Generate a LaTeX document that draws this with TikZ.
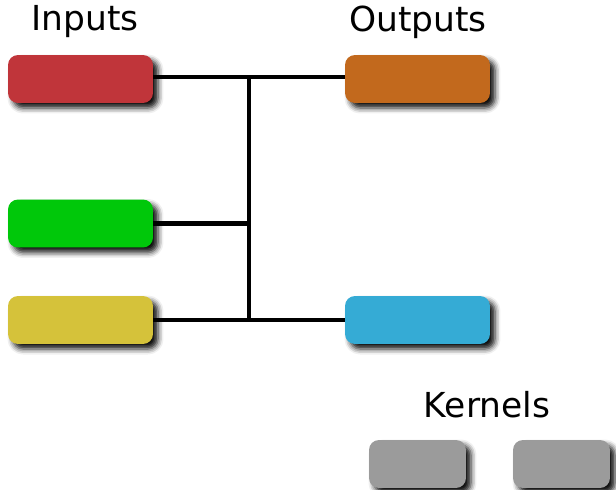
\documentclass[tikz,border=0pt]{standalone}
\usepackage{fontspec}
\setmainfont{DejaVu Sans}
\usepackage{xcolor}
\usetikzlibrary{shadows.blur}

\definecolor{inred}{HTML}{C0353A}
\definecolor{ingreen}{HTML}{00C80A}
\definecolor{inyellow}{HTML}{D5C23A}
\definecolor{outorange}{HTML}{C2691D}
\definecolor{outblue}{HTML}{35ABD5}
\definecolor{kgray}{HTML}{9B9B9B}

\begin{document}
\begin{tikzpicture}[x=0.02cm, y=-0.02cm,
        box/.style={rounded corners=0.2cm, minimum width=2.9cm, minimum height=0.96cm,
            inner sep=0pt, blur shadow={shadow xshift=0.1cm, shadow yshift=-0.1cm,
            shadow blur radius=0.11cm, shadow opacity=95}},
        kbox/.style={box, minimum width=1.94cm},
        wire/.style={line width=0.085cm},
        title/.style={font=\fontsize{19.6}{19.6}\selectfont}]
        \useasboundingbox (0, 0) rectangle (616, 490);

        % Inputs
        \node[title] (inlabel) at (85, 22) {Inputs};
        \node[box, fill=inred] (red) at (80.5, 79) {};
        \node[box, fill=ingreen] (green) at (80.5, 223.5) {};
        \node[box, fill=inyellow] (yellow) at (80.5, 320) {};

        % Outputs
        \node[title] (outlabel) at (418, 22) {Outputs};
        \node[box, fill=outorange] (orange) at (417.5, 79) {};
        \node[box, fill=outblue] (blue) at (417.5, 320) {};

        % Kernels
        \node[title] (klabel) at (487, 405) {Kernels};
        \node[kbox, fill=kgray] (k1) at (417.5, 464) {};
        \node[kbox, fill=kgray] (k2) at (561.5, 464) {};

        % Wiring
        \coordinate (top) at (249, 77);
        \coordinate (bot) at (249, 320);
        \draw[wire] (red.east |- top) -- (orange.west |- top);
        \draw[wire] (top) -- (bot);
        \draw[wire] (green.east) -- (green.east -| top);
        \draw[wire] (yellow.east) -- (blue.west);
    \end{tikzpicture}
\end{document}
